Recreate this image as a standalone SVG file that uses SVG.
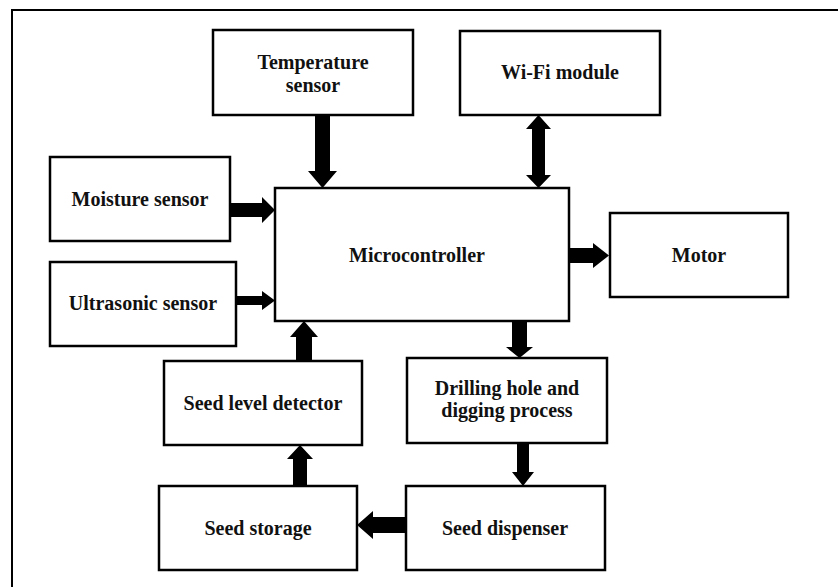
<svg xmlns="http://www.w3.org/2000/svg" width="838" height="587" viewBox="0 0 838 587">
<style>
.box{fill:#fff;stroke:#000;stroke-width:2.5}
.t{font-family:'Liberation Serif','Times New Roman','DejaVu Serif',serif;font-weight:700;font-size:20px;fill:#111;text-anchor:middle}
.arr{fill:#000}
</style>
<rect x="0" y="0" width="838" height="587" fill="#fff"/>
<path d="M12,587 V10 H838" fill="none" stroke="#000" stroke-width="2"/>
<g id="temperature-sensor"><rect class="box" x="213" y="30" width="200" height="85"/><text class="t" x="313" y="69">Temperature</text><text class="t" x="313" y="92">sensor</text></g>
<g id="wifi-module"><rect class="box" x="460" y="31" width="200" height="84"/><text class="t" x="560" y="79">Wi-Fi module</text></g>
<g id="moisture-sensor"><rect class="box" x="50" y="157" width="180" height="84"/><text class="t" x="140" y="206">Moisture sensor</text></g>
<g id="microcontroller"><rect class="box" x="275" y="188" width="294" height="133"/><text class="t" x="417" y="262">Microcontroller</text></g>
<g id="motor"><rect class="box" x="610" y="213" width="178" height="84"/><text class="t" x="699" y="262">Motor</text></g>
<g id="ultrasonic-sensor"><rect class="box" x="50" y="262" width="186" height="84"/><text class="t" x="143" y="310">Ultrasonic sensor</text></g>
<g id="seed-level-detector"><rect class="box" x="164" y="361" width="198" height="84"/><text class="t" x="263" y="410">Seed level detector</text></g>
<g id="drilling"><rect class="box" x="407" y="358" width="200" height="85"/><text class="t" x="507" y="395">Drilling hole and</text><text class="t" x="507" y="417">digging process</text></g>
<g id="seed-storage"><rect class="box" x="159" y="486" width="198" height="84"/><text class="t" x="258" y="535">Seed storage</text></g>
<g id="seed-dispenser"><rect class="box" x="406" y="486" width="199" height="84"/><text class="t" x="505" y="535">Seed dispenser</text></g>
<g id="connectors">
<polygon class="arr" points="315,115 330,115 330,171 337,171 322.5,188 308,171 315,171"/>
<polygon class="arr" points="538.5,115 551,129 545,129 545,175 551,175 538.5,188 526,175 532,175 532,129 526,129"/>
<polygon class="arr" points="230,203 262,203 262,197 275,210 262,223 262,217 230,217"/>
<polygon class="arr" points="236,296 262,296 262,291 275,300.5 262,310 262,305 236,305"/>
<polygon class="arr" points="569,248 593,248 593,243 609,255.5 593,268 593,263 569,263"/>
<polygon class="arr" points="296,361 296,337 290,337 304,321 318,337 312,337 312,361"/>
<polygon class="arr" points="512,321 527,321 527,347 533,347 519.5,358 506,347 512,347"/>
<polygon class="arr" points="517,443 529,443 529,472 534,472 523,486 512,472 517,472"/>
<polygon class="arr" points="406,517 373,517 373,511 357,525 373,539 373,533 406,533"/>
<polygon class="arr" points="293,486 293,459 287,459 300,445 313,459 307,459 307,486"/>
</g>
</svg>
